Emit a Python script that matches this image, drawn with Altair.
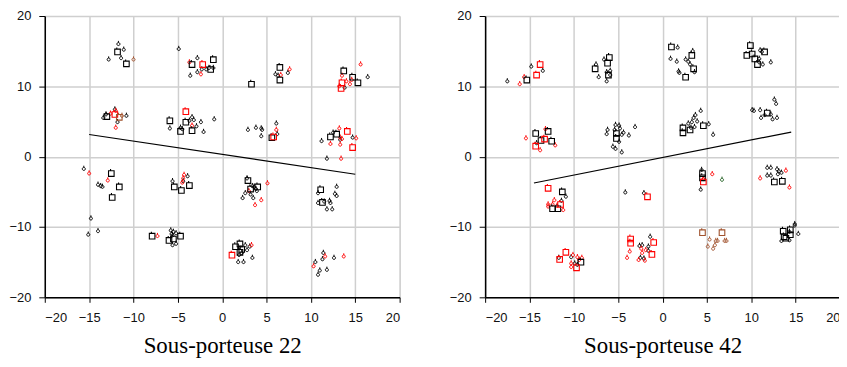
import altair as alt
import pandas as pd

# ---------------- data: Sous-porteuse 22 ----------------
p22_black_small = [
    (-11.7,16.1),(-11.1,15.3),(-12.8,13.9),(-11.4,14.1),
    (-4.9,15.4),(-2.8,14.1),(-3.6,11.6),(-2.8,12.1),(-2.3,12.5),(-1.8,12.5),(-1.5,12.7),(-1.0,12.7),
    (6.0,11.8),(6.3,11.6),(7.4,12.0),(13.8,9.9),(16.4,11.4),
    (-13.4,5.6),(-13.1,6.1),(-12.1,6.8),(-10.8,5.9),(-11.8,5.0),
    (-5.9,4.1),(-4.7,4.2),(-4.5,4.0),(-3.7,5.2),(-3.4,5.7),(-3.2,5.3),(-2.9,4.4),(-2.4,5.0),(-2.1,3.6),(-0.9,5.4),
    (2.9,3.9),(3.8,4.2),(4.4,4.1),(4.5,3.9),(4.4,3.0),(6.1,4.8),(6.2,3.3),
    (11.2,2.3),(12.5,3.5),(13.3,2.5),(14.7,2.8),(11.8,-0.2),
    (-15.6,-1.65),(-14.0,-3.9),(-13.7,-4.1),(-13.5,-4.2),(-14.8,-8.7),(-15.1,-11.0),(-14.0,-10.5),
    (-3.9,-2.7),(-5.6,-3.4),(-4.4,-3.4),
    (2.8,-3.0),(3.4,-4.1),(3.6,-4.2),(2.6,-5.1),(3.2,-5.3),(3.5,-5.8),(2.3,-5.8),(3.9,-4.8),(3.8,-4.5),
    (10.8,-5.1),(12.9,-4.2),(12.7,-5.2),(12.9,-5.5),(10.8,-6.5),(11.5,-6.3),(12.1,-6.2),(11.8,-7.4),(12.4,-7.4),(12.2,-6.5),
    (-5.8,-10.4),(-5.5,-10.6),(-5.2,-10.8),(-5.6,-11.1),(-5.6,-12.5),(-5.2,-12.3),(-5.7,-10.9),
    (1.9,-12.9),(2.6,-12.5),(3.1,-12.7),(2.8,-13.2),(2.2,-13.6),(1.9,-13.9),(1.8,-14.9),(2.4,-14.9),(3.4,-14.3),
    (10.5,-14.9),(10.8,-16.7),(11.0,-16.1),(11.4,-13.6),(11.3,-14.5),(12.6,-14.3),(11.8,-16.0),
]
p22_black_square = [
    (-11.8,15.0),(-10.8,13.3),(-3.4,13.2),(-1.3,12.5),(-1.0,13.9),(6.5,12.8),(6.5,11.0),(3.3,10.4),
    (13.7,12.3),(14.7,11.4),(15.3,10.6),
    (-13.0,5.8),(-5.9,5.2),(-4.7,3.7),(-4.1,5.0),(-3.4,3.8),(5.6,2.8),(12.2,2.9),(12.9,3.3),
    (-12.5,-2.3),(-11.6,-4.2),(-12.4,-5.7),(-5.4,-4.2),(-4.6,-4.7),(-3.7,-4.0),(2.9,-3.3),(4.0,-4.2),(3.2,-4.5),
    (11.1,-4.6),(11.3,-6.4),
    (-7.9,-11.2),(-4.7,-11.2),(-6.0,-11.8),(-5.5,-11.6),(2.0,-12.3),(1.5,-12.7),(2.2,-13.1),(2.0,-13.5),
]
p22_red_small = [
    (-3.7,13.5),(-2.4,11.8),(7.6,12.5),(6.6,11.7),(15.6,13.2),(13.5,11.6),(14.6,11.0),(13.2,10.1),(14.4,10.4),(14.0,10.8),
    (-12.6,6.2),(-12.0,6.6),(-12.0,4.2),(-3.4,4.5),(6.1,3.9),(12.2,1.9),(13.2,4.1),(13.3,2.8),(13.5,2.6),(13.3,1.8),
    (15.1,2.7),(13.4,-0.2),
    (-15.0,-2.3),(-12.9,-3.3),(-4.3,-2.5),(-4.4,-3.0),(-4.5,-3.6),(5.1,-3.7),(3.0,-4.8),(4.4,-6.1),(3.7,-6.8),
    (-7.3,-11.2),(3.3,-12.5),(10.3,-15.5),(11.6,-14.1),(13.7,-14.1),
]
p22_red_square = [
    (-2.2,13.2),(13.5,10.6),(13.4,9.8),(-12.1,6.1),(-4.1,6.5),(5.8,2.9),(14.1,3.7),(14.7,1.4),(1.1,-13.9),
]
p22_brown_small = [(-10.0,13.9),(-11.3,5.9)]
p22_brown_square = [(-11.6,5.7)]
p22_green_small = []
p22_line_x = [-15, 15]
p22_line_y = [3.15, -2.5]

# ---------------- data: Sous-porteuse 42 ----------------
p42_black_small = [
    (-17.5,10.8),(-14.8,12.9),(-13.5,12.3),
    (-7.5,13.2),(-7.2,11.4),(-6.6,13.9),(-6.3,12.1),(-5.9,12.3),(-6.3,10.8),(-5.9,11.7),
    (1.7,15.6),(0.9,14.0),(1.6,13.6),(2.6,13.9),(2.9,13.6),(3.1,13.2),(1.8,12.2),(1.9,12.0),(3.6,12.1),(3.4,15.1),
    (11.0,15.2),(11.2,15.0),(10.9,14.0),(11.3,13.2),(12.2,13.5),(10.9,13.5),
    (-14.2,2.0),
    (-5.3,4.6),(-4.9,4.5),(-5.4,3.9),(-6.2,3.9),(-6.3,3.3),(-4.6,3.2),(-4.4,3.5),(-3.1,4.3),(-3.8,3.1),(-4.9,2.2),
    (-5.6,1.5),(-5.3,1.2),(-4.6,0.7),(-4.8,4.1),
    (4.3,6.6),(3.7,6.0),(3.5,5.6),(3.3,5.0),(3.9,5.1),(3.2,4.2),(3.6,4.3),(5.2,4.7),(5.7,3.2),(2.9,4.8),
    (10.1,6.7),(10.3,6.6),(11.0,6.7),(11.5,6.0),(12.2,6.1),(11.1,5.6),(12.4,5.4),(12.9,5.6),(12.6,8.2),(12.8,7.6),
    (-10.9,-5.6),(-11.4,-6.2),(-4.2,-5.0),(-2.1,-5.1),
    (-11.7,-14.3),(-10.3,-14.2),(-9.6,-15.3),(-9.9,-15.1),
    (-2.6,-12.6),(-2.3,-12.5),(-1.6,-12.7),(-1.6,-13.3),(-1.4,-11.3),(-2.5,-14.3),(-2.1,-14.4),
    (4.4,-1.8),(4.3,-4.6),
    (11.8,-1.5),(12.2,-1.5),(12.9,-1.7),(13.1,-2.0),(11.8,-2.6),(12.2,-2.6),(13.0,-2.4),(13.4,-2.2),
    (14.9,-9.7),(14.9,-9.5),(15.3,-10.9),(14.3,-11.8),(13.4,-11.9),(14.3,-10.6),
]
p42_black_square = [
    (-15.3,11.0),(-7.6,12.6),(-6.2,13.4),(-6.0,14.2),(-6.1,11.7),
    (1.0,15.7),(3.3,14.5),(3.5,12.6),(2.6,11.4),
    (9.9,15.9),(9.5,14.5),(10.1,14.7),(11.5,15.0),(10.4,14.0),(10.7,13.2),
    (-14.3,3.4),(-12.9,3.7),(-13.7,2.4),(-12.5,2.3),(-5.2,3.4),(-5.2,2.7),
    (2.3,4.2),(2.3,3.5),(3.1,3.9),(4.6,4.5),(11.8,6.3),
    (-11.3,-4.9),(-12.4,-7.3),(-11.8,-7.3),(-9.2,-14.9),
    (4.5,-2.3),(4.5,-2.9),(12.6,-3.5),(13.5,-3.4),
    (13.6,-10.5),(14.4,-10.3),(13.7,-11.3),(13.9,-11.5),(14.4,-11.0),
]
p42_red_small = [
    (-16.1,10.4),(-15.6,11.4),(-15.4,2.7),(-13.2,4.0),(-13.8,1.0),(-12.1,1.7),
    (-12.2,-6.1),(-12.9,-6.7),(-12.9,-7.0),(-12.4,-6.7),(-11.2,-7.5),(-11.9,-6.9),
    (-10.1,-13.9),(-10.3,-15.1),(-10.3,-15.6),(-9.6,-14.2),(-9.1,-14.3),(-9.4,-14.6),
    (-3.7,-13.4),(-4.0,-14.3),(-2.4,-13.0),(-1.9,-13.2),(-2.7,-14.6),(-2.0,-14.7),(-2.3,-13.6),
    (4.6,-3.1),(5.6,-2.4),(13.9,-1.9),(11.0,-3.0),(14.3,-4.3),
]
p42_red_square = [
    (-13.8,13.2),(-14.2,11.7),(-13.3,2.6),(-14.3,1.6),
    (-12.9,-4.4),(-11.5,-6.7),(-1.7,-5.6),
    (-10.9,-13.5),(-11.6,-14.5),(-9.7,-15.7),
    (-3.6,-11.6),(-3.6,-12.2),(-1.0,-12.1),(-1.2,-13.8),(4.6,-3.5),
]
p42_brown_small = [(5.3,-11.7),(6.0,-11.9),(6.2,-11.9),(7.0,-11.9),(7.2,-11.9),(5.9,-12.5),(5.1,-12.7),(5.7,-13.0)]
p42_brown_square = [(4.5,-10.7),(6.7,-10.7)]
p42_green_small = [(6.7,-3.2)]
p42_line_x = [-14.5, 14.5]
p42_line_y = [-3.75, 3.5]

ticks = list(range(-20, 21, 5))
color_domain = ["black", "red", "brown", "green"]
color_range = ["#000000", "#ff0000", "#a0522d", "#1e5e1e"]

SMALL_PATH = "M0,-1V-0.35M-0.6,0.25A0.6,0.6 0 1,0 0.6,0.25A0.6,0.6 0 1,0 -0.6,0.25"
SQUARE_PATH = "M-0.75,-0.55H0.75V0.95H-0.75ZM-0.2,-0.55V-1"


def points_frame(groups):
    rows = []
    for (color, kind), pts in groups.items():
        for x, y in pts:
            rows.append({"x": x, "y": y, "c": color, "k": kind})
    return pd.DataFrame(rows, columns=["x", "y", "c", "k"])


def panel(title, groups, lx, ly):
    df = points_frame(groups)
    xs = alt.Scale(domain=[-20, 20], nice=False, zero=False)
    ys = alt.Scale(domain=[-20, 20], nice=False, zero=False)
    xaxis = alt.Axis(values=ticks, grid=True, gridColor="#cfcfcf", gridWidth=1.5,
                     domainColor="#000", domainWidth=1.5, tickColor="#000", tickSize=5,
                     labelFont="Liberation Sans", labelFontSize=13, labelColor="#111",
                     labelPadding=9, title=title, titleFont="Liberation Serif",
                     titleFontSize=23, titleFontWeight="normal", titleColor="#000",
                     titlePadding=11)
    yaxis = alt.Axis(values=ticks, grid=True, gridColor="#cfcfcf", gridWidth=1.5,
                     domainColor="#000", domainWidth=1.5, tickColor="#000", tickSize=6,
                     labelFont="Liberation Sans", labelFontSize=13, labelColor="#111",
                     labelPadding=8, title=None, minExtent=33, maxExtent=33)
    cscale = alt.Scale(domain=color_domain, range=color_range)

    base = alt.Chart(df)
    small = base.transform_filter(alt.datum.k == "small").mark_point(
        shape=SMALL_PATH, size=26, filled=False, strokeWidth=1, opacity=1
    ).encode(
        x=alt.X("x:Q", scale=xs, axis=xaxis),
        y=alt.Y("y:Q", scale=ys, axis=yaxis),
        color=alt.Color("c:N", scale=cscale, legend=None),
    )
    square = base.transform_filter(alt.datum.k == "square").mark_point(
        shape=SQUARE_PATH, size=56, filled=False, strokeWidth=1.1, opacity=1
    ).encode(
        x=alt.X("x:Q", scale=xs),
        y=alt.Y("y:Q", scale=ys),
        color=alt.Color("c:N", scale=cscale, legend=None),
    )
    line = alt.Chart(pd.DataFrame({"x": lx, "y": ly})).mark_line(
        color="#000", strokeWidth=1.2
    ).encode(x=alt.X("x:Q", scale=xs), y=alt.Y("y:Q", scale=ys))
    return alt.layer(line, small, square).properties(width=357, height=283)


left = panel("Sous-porteuse 22", {
    ("black", "small"): p22_black_small, ("black", "square"): p22_black_square,
    ("red", "small"): p22_red_small, ("red", "square"): p22_red_square,
    ("brown", "small"): p22_brown_small, ("brown", "square"): p22_brown_square,
    ("green", "small"): p22_green_small,
}, p22_line_x, p22_line_y)

right = panel("Sous-porteuse 42", {
    ("black", "small"): p42_black_small, ("black", "square"): p42_black_square,
    ("red", "small"): p42_red_small, ("red", "square"): p42_red_square,
    ("brown", "small"): p42_brown_small, ("brown", "square"): p42_brown_square,
    ("green", "small"): p42_green_small,
}, p42_line_x, p42_line_y)

chart = alt.hconcat(left, right, spacing=86, bounds="flush").properties(
    padding={"left": 0, "right": -2, "top": 0, "bottom": 0}
).configure_view(stroke="#444", strokeWidth=1.5).configure(background="white")

chart.save("out.html", embed_options={"renderer": "svg", "actions": False})
